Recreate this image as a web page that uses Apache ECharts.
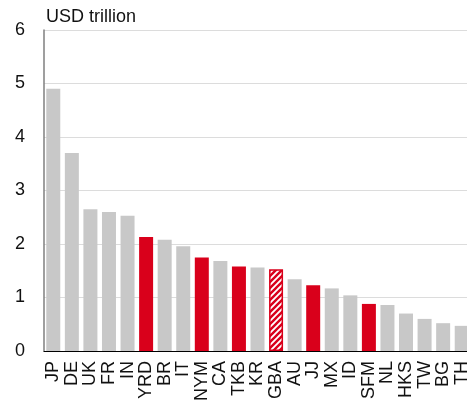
<!DOCTYPE html>
<html><head><meta charset="utf-8">
<script src="https://cdn.jsdelivr.net/npm/echarts@6/dist/echarts.min.js"></script>
<style>html,body{margin:0;padding:0;background:#fff}#c{width:467px;height:401px}</style>
</head><body><div id="c"></div>
<script>
const categories = ['JP','DE','UK','FR','IN','YRD','BR','IT','NYM','CA','TKB','KR','GBA','AU','JJ','MX','ID','SFM','NL','HKS','TW','BG','TH'];
const values = [4.90,3.70,2.65,2.60,2.53,2.13,2.08,1.96,1.75,1.68,1.58,1.56,1.53,1.34,1.23,1.17,1.04,0.88,0.86,0.70,0.60,0.52,0.47];
const highlighted = ['YRD','NYM','TKB','JJ','SFM'];
const hatched = ['GBA'];
const yTicks = [0,1,2,3,4,5,6];
const unitLabel = 'USD trillion';

const GRAY = '#c8c8c8', RED = '#d9001b';
const FONT = 'Liberation Sans, Arial, sans-serif';
function stripePattern(){
  const s = 6, c = document.createElement('canvas');
  c.width = s; c.height = s;
  const g = c.getContext('2d');
  g.fillStyle = '#fff'; g.fillRect(0,0,s,s);
  g.strokeStyle = RED; g.lineWidth = 2.4;
  g.beginPath();
  g.moveTo(-1,s+1); g.lineTo(s+1,-1);
  g.moveTo(-1,1); g.lineTo(1,-1);
  g.moveTo(s-1,s+1); g.lineTo(s+1,s-1);
  g.stroke();
  return c;
}
const pat = {image: stripePattern(), repeat: 'repeat'};

const data = categories.map((c,i)=>{
  if (hatched.includes(c)) return {value: values[i], itemStyle:{color: pat, borderColor: RED, borderWidth: 1.5}};
  if (highlighted.includes(c)) return {value: values[i], itemStyle:{color: RED}};
  return {value: values[i], itemStyle:{color: GRAY}};
});

const chart = echarts.init(document.getElementById('c'), null, {renderer:'canvas'});
chart.setOption({
  animation: false,
  title: {text: unitLabel, left: 41, top: 3, textStyle:{fontFamily: FONT, fontSize:18, fontWeight:'normal', color:'#111'}},
  grid: {left: 44, top: 30, height: 321, width: 427, containLabel: false, outerBoundsMode: 'none'},
  xAxis: {
    type: 'category', data: categories,
    axisLine: {lineStyle:{color:'#000', width:1}},
    axisTick: {show:false},
    axisLabel: {rotate: 90, interval: 0, margin: 10, fontFamily: FONT, fontSize:18, color:'#111'}
  },
  yAxis: {
    type: 'value', min: yTicks[0], max: yTicks[yTicks.length-1], interval: 1,
    axisLine: {show:true, lineStyle:{color:'#7f7f7f', width:1.5}},
    axisTick: {show:false},
    splitLine: {lineStyle:{color:'#dcdcdc', width:1}},
    axisLabel: {margin: 19, fontFamily: FONT, fontSize:18, color:'#111'}
  },
  series: [{type:'bar', data: data, barWidth: 14}]
});
</script></body></html>
